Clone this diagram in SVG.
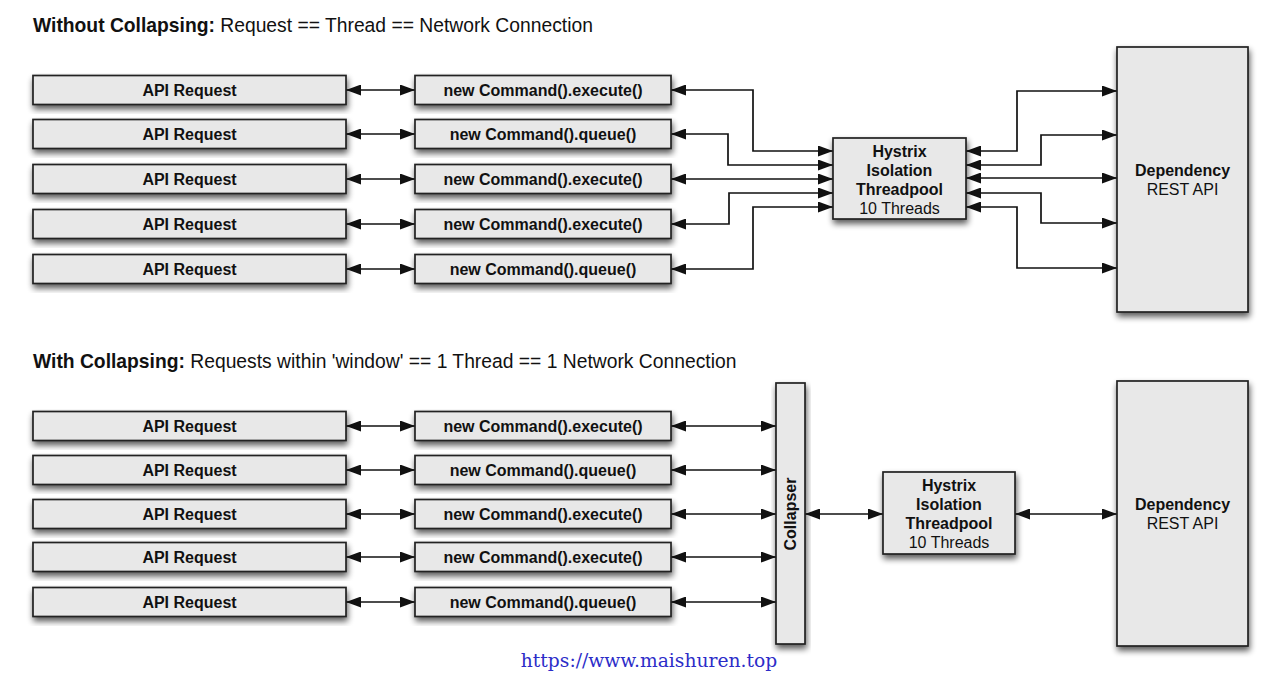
<svg xmlns="http://www.w3.org/2000/svg" width="1280" height="685" viewBox="0 0 1280 685">
<defs>
<filter id="sh" x="-20%" y="-20%" width="140%" height="150%">
<feGaussianBlur in="SourceAlpha" stdDeviation="3"/>
<feOffset dx="1" dy="4" result="b"/>
<feComponentTransfer><feFuncA type="linear" slope="0.65"/></feComponentTransfer>
<feMerge><feMergeNode/><feMergeNode in="SourceGraphic"/></feMerge>
</filter>
<marker id="ah" viewBox="0 0 15 11" refX="15" refY="5.5" markerWidth="15" markerHeight="11" markerUnits="userSpaceOnUse" orient="auto-start-reverse">
<path d="M0,0 L15,5.5 L0,11 z" fill="#111"/>
</marker>
<style>
.box{fill:#e8e8e8;stroke:#222;stroke-width:1.7;filter:url(#sh)}
.t{font-family:"Liberation Sans",Arial,sans-serif;font-size:16px;fill:#111;text-anchor:middle}
.b{font-weight:bold}
.h{font-family:"Liberation Sans",Arial,sans-serif;font-size:19.3px;fill:#111}
.c{fill:none;stroke:#111;stroke-width:1.7;marker-start:url(#ah);marker-end:url(#ah)}
</style>
</defs>
<rect width="1280" height="685" fill="#fff"/>
<text class="h" x="33" y="32"><tspan font-weight="bold">Without Collapsing:</tspan> Request == Thread == Network Connection</text>
<text class="h" x="33" y="368"><tspan font-weight="bold">With Collapsing:</tspan> Requests within 'window' == 1 Thread == 1 Network Connection</text>

<g id="connectors">
<path class="c" d="M346,90 H415"/>
<path class="c" d="M346,134 H415"/>
<path class="c" d="M346,179 H415"/>
<path class="c" d="M346,224 H415"/>
<path class="c" d="M346,269 H415"/>
<path class="c" d="M671,90 H753 V151 H833"/>
<path class="c" d="M671,134 H728 V165 H833"/>
<path class="c" d="M671,179 H833"/>
<path class="c" d="M671,224 H729 V193 H833"/>
<path class="c" d="M671,269 H753 V207 H833"/>
<path class="c" d="M966,151 H1017 V91 H1117"/>
<path class="c" d="M966,165 H1041 V135 H1117"/>
<path class="c" d="M966,178 H1117"/>
<path class="c" d="M966,193 H1041 V223 H1117"/>
<path class="c" d="M966,207 H1017 V268 H1117"/>
<path class="c" d="M346,426 H415"/>
<path class="c" d="M346,470 H415"/>
<path class="c" d="M346,514 H415"/>
<path class="c" d="M346,557 H415"/>
<path class="c" d="M346,602 H415"/>
<path class="c" d="M671,426 H776"/>
<path class="c" d="M671,470 H776"/>
<path class="c" d="M671,514 H776"/>
<path class="c" d="M671,557 H776"/>
<path class="c" d="M671,602 H776"/>
<path class="c" d="M805,514 H883"/>
<path class="c" d="M1015,514 H1117"/>
</g>

<g id="api1"><rect class="box" x="33" y="75.5" width="313" height="29"/><text class="t b" x="189.5" y="95.5">API Request</text></g>
<g id="api2"><rect class="box" x="33" y="119.5" width="313" height="29"/><text class="t b" x="189.5" y="139.5">API Request</text></g>
<g id="api3"><rect class="box" x="33" y="164.5" width="313" height="29"/><text class="t b" x="189.5" y="184.5">API Request</text></g>
<g id="api4"><rect class="box" x="33" y="209.5" width="313" height="29"/><text class="t b" x="189.5" y="229.5">API Request</text></g>
<g id="api5"><rect class="box" x="33" y="254.5" width="313" height="29"/><text class="t b" x="189.5" y="274.5">API Request</text></g>

<g id="cmd1"><rect class="box" x="415" y="75.5" width="256" height="29"/><text class="t b" x="543" y="95.5">new Command().execute()</text></g>
<g id="cmd2"><rect class="box" x="415" y="119.5" width="256" height="29"/><text class="t b" x="543" y="139.5">new Command().queue()</text></g>
<g id="cmd3"><rect class="box" x="415" y="164.5" width="256" height="29"/><text class="t b" x="543" y="184.5">new Command().execute()</text></g>
<g id="cmd4"><rect class="box" x="415" y="209.5" width="256" height="29"/><text class="t b" x="543" y="229.5">new Command().execute()</text></g>
<g id="cmd5"><rect class="box" x="415" y="254.5" width="256" height="29"/><text class="t b" x="543" y="274.5">new Command().queue()</text></g>

<g id="hystrix1"><rect class="box" x="833" y="138" width="133" height="81"/>
<text class="t b" x="899.5" y="156.5">Hystrix</text><text class="t b" x="899.5" y="175.5">Isolation</text><text class="t b" x="899.5" y="194.5">Threadpool</text><text class="t" x="899.5" y="213.5">10 Threads</text></g>

<g id="dep1"><rect class="box" x="1117" y="47" width="131" height="265"/>
<text class="t b" x="1182.5" y="175.5">Dependency</text><text class="t" x="1182.5" y="194.5">REST API</text></g>

<g id="api6"><rect class="box" x="33" y="411.5" width="313" height="29"/><text class="t b" x="189.5" y="431.5">API Request</text></g>
<g id="api7"><rect class="box" x="33" y="455.5" width="313" height="29"/><text class="t b" x="189.5" y="475.5">API Request</text></g>
<g id="api8"><rect class="box" x="33" y="499.5" width="313" height="29"/><text class="t b" x="189.5" y="519.5">API Request</text></g>
<g id="api9"><rect class="box" x="33" y="542.5" width="313" height="29"/><text class="t b" x="189.5" y="562.5">API Request</text></g>
<g id="api10"><rect class="box" x="33" y="587.5" width="313" height="29"/><text class="t b" x="189.5" y="607.5">API Request</text></g>

<g id="cmd6"><rect class="box" x="415" y="411.5" width="256" height="29"/><text class="t b" x="543" y="431.5">new Command().execute()</text></g>
<g id="cmd7"><rect class="box" x="415" y="455.5" width="256" height="29"/><text class="t b" x="543" y="475.5">new Command().queue()</text></g>
<g id="cmd8"><rect class="box" x="415" y="499.5" width="256" height="29"/><text class="t b" x="543" y="519.5">new Command().execute()</text></g>
<g id="cmd9"><rect class="box" x="415" y="542.5" width="256" height="29"/><text class="t b" x="543" y="562.5">new Command().execute()</text></g>
<g id="cmd10"><rect class="box" x="415" y="587.5" width="256" height="29"/><text class="t b" x="543" y="607.5">new Command().queue()</text></g>

<g id="collapser"><rect class="box" x="776" y="383" width="29" height="261"/>
<text class="t b" transform="translate(796,514) rotate(-90)" x="0" y="0">Collapser</text></g>

<g id="hystrix2"><rect class="box" x="883" y="472" width="132" height="82"/>
<text class="t b" x="949" y="490.5">Hystrix</text><text class="t b" x="949" y="509.5">Isolation</text><text class="t b" x="949" y="528.5">Threadpool</text><text class="t" x="949" y="547.5">10 Threads</text></g>

<g id="dep2"><rect class="box" x="1117" y="381" width="131" height="265"/>
<text class="t b" x="1182.5" y="509.5">Dependency</text><text class="t" x="1182.5" y="528.5">REST API</text></g>

<text x="649" y="667" font-family="'DejaVu Serif',serif" font-size="18.7" fill="#2c2cc8" text-anchor="middle">https://www.maishuren.top</text>
</svg>
